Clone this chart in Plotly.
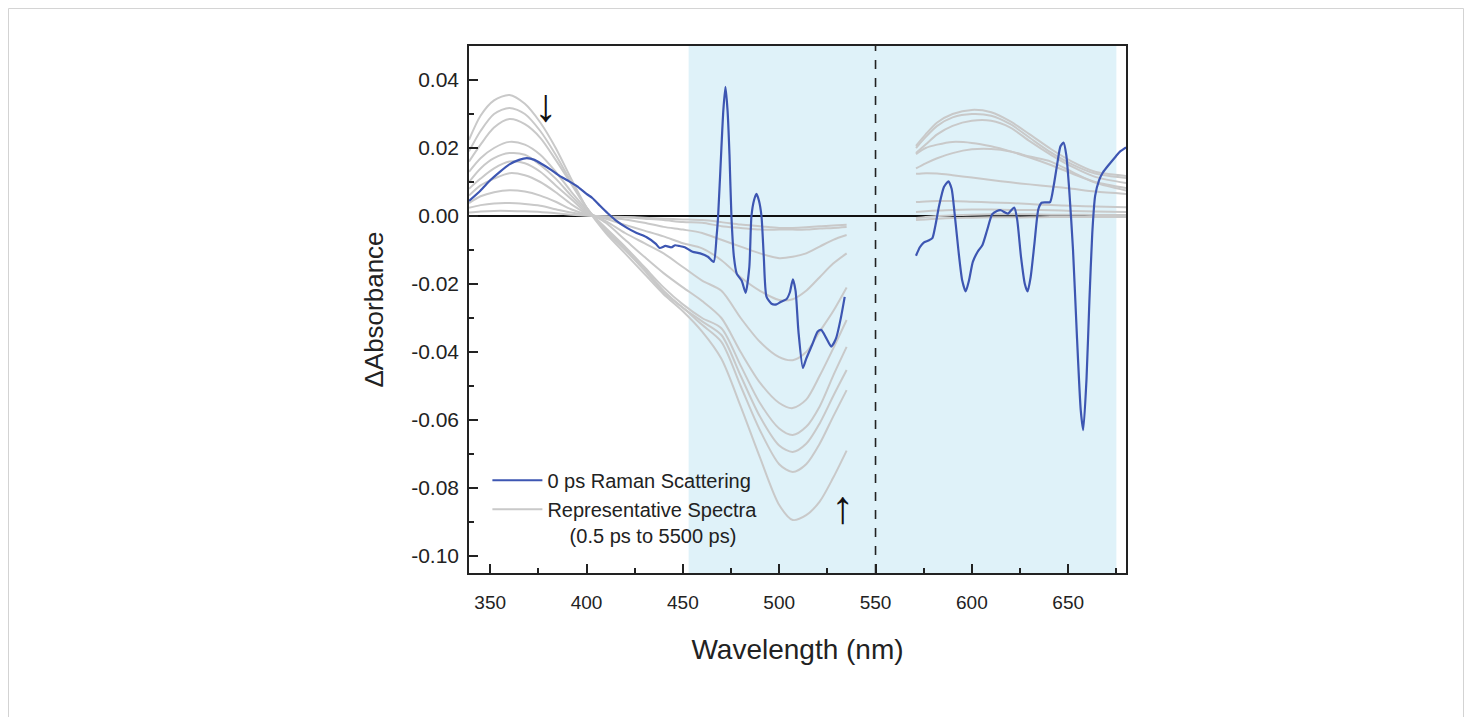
import plotly.graph_objects as go

# ---------------- data ----------------
wl_uv = [339, 345, 352, 360, 368, 376, 384, 392, 400, 410, 420, 430, 440, 450,
         460, 470, 480, 490, 500, 507, 514, 521, 528, 535]
wl_vis = [571, 576, 582, 590, 600, 610, 620, 630, 641, 652, 664, 680]

spec1_uv = [0.0224, 0.0295, 0.034, 0.0356, 0.033, 0.0275, 0.020, 0.011, 0.0025, -0.005, -0.011, -0.017,
            -0.023, -0.028, -0.034, -0.042, -0.056, -0.071, -0.085, -0.0894, -0.088, -0.084, -0.077, -0.069]
spec2_uv = [0.019, 0.025, 0.030, 0.0318, 0.030, 0.025, 0.018, 0.010, 0.0025, -0.0045, -0.010, -0.016,
            -0.0225, -0.027, -0.032, -0.037, -0.050, -0.063, -0.073, -0.0753, -0.073, -0.067, -0.059, -0.0512]
spec3_uv = [0.016, 0.021, 0.026, 0.0285, 0.027, 0.023, 0.0165, 0.0095, 0.0025, -0.004, -0.0095, -0.0155,
            -0.022, -0.027, -0.031, -0.035, -0.047, -0.059, -0.0675, -0.0694, -0.067, -0.061, -0.053, -0.0453]
spec4_uv = [0.013, 0.017, 0.020, 0.0218, 0.021, 0.018, 0.013, 0.0072, 0.002, -0.0035, -0.009, -0.015,
            -0.021, -0.026, -0.030, -0.033, -0.044, -0.055, -0.0625, -0.0644, -0.062, -0.056, -0.047, -0.0385]
spec5_uv = [0.010, 0.014, 0.017, 0.0185, 0.018, 0.015, 0.011, 0.006, 0.0015, -0.002, -0.007, -0.012,
            -0.0168, -0.021, -0.025, -0.030, -0.040, -0.049, -0.055, -0.0565, -0.054, -0.047, -0.039, -0.0306]
spec6_uv = [0.008, 0.011, 0.014, 0.016, 0.0155, 0.013, 0.009, 0.005, 0.001, -0.0015, -0.005, -0.008,
            -0.011, -0.015, -0.019, -0.022, -0.030, -0.037, -0.0415, -0.0424, -0.040, -0.034, -0.028, -0.021]
spec7_uv = [0.006, 0.009, 0.011, 0.0126, 0.012, 0.010, 0.007, 0.0035, 0.0008, -0.0008, -0.0026, -0.0043,
            -0.006, -0.008, -0.0095, -0.013, -0.018, -0.022, -0.0247, -0.0245, -0.022, -0.018, -0.014, -0.011]
spec8_uv = [0.0038, 0.0058, 0.0070, 0.0076, 0.0072, 0.006, 0.0042, 0.002, 0.0005, -0.0005, -0.001, -0.002,
            -0.0032, -0.004, -0.005, -0.007, -0.009, -0.011, -0.0124, -0.012, -0.011, -0.009, -0.007, -0.0056]
spec9_uv = [0.0024, 0.0032, 0.0037, 0.0038, 0.0035, 0.003, 0.002, 0.001, 0.0003, -0.0002, -0.0004, -0.0008,
            -0.0012, -0.0018, -0.002, -0.003, -0.0035, -0.004, -0.004, -0.004, -0.004, -0.0037, -0.0035, -0.0032]
spec10_uv = [0.001, 0.0013, 0.0015, 0.0015, 0.0014, 0.0012, 0.0008, 0.0004, 0.0001, -0.0001, -0.0003, -0.0005,
             -0.0008, -0.001, -0.0012, -0.0018, -0.0025, -0.003, -0.0035, -0.0035, -0.0033, -0.003, -0.0028, -0.0026]

spec1_vis = [0.0206, 0.024, 0.0275, 0.030, 0.0312, 0.0305, 0.0278, 0.024, 0.0197, 0.016, 0.013, 0.0118]
spec2_vis = [0.0200, 0.0232, 0.0265, 0.029, 0.0300, 0.0295, 0.027, 0.023, 0.0187, 0.0152, 0.0125, 0.0112]
spec3_vis = [0.0185, 0.021, 0.024, 0.0265, 0.0280, 0.0280, 0.026, 0.022, 0.0180, 0.0145, 0.0115, 0.0097]
spec4_vis = [0.0182, 0.0200, 0.021, 0.0218, 0.0215, 0.0205, 0.019, 0.0172, 0.0150, 0.0125, 0.010, 0.0082]
spec5_vis = [0.0140, 0.0155, 0.0170, 0.0185, 0.0196, 0.0197, 0.0190, 0.0175, 0.0160, 0.013, 0.0098, 0.0075]
spec6_vis = [0.0124, 0.0126, 0.0125, 0.012, 0.0113, 0.0106, 0.0099, 0.0093, 0.0087, 0.0080, 0.0072, 0.0065]
spec7_vis = [0.0041, 0.0043, 0.0044, 0.0044, 0.0042, 0.0040, 0.0038, 0.0035, 0.0032, 0.0030, 0.0028, 0.0026]
spec8_vis = [0.0012, 0.0014, 0.0016, 0.0018, 0.0019, 0.0019, 0.0018, 0.0018, 0.0017, 0.0015, 0.0013, 0.0012]
spec9_vis = [-0.0006, -0.0003, 0.0, 0.0002, 0.0004, 0.0005, 0.0005, 0.0005, 0.0004, 0.0004, 0.0003, 0.0003]
spec10_vis = [-0.0012, -0.0010, -0.0008, -0.0006, -0.0005, -0.0004, -0.0004, -0.0004, -0.0003, -0.0003, -0.0003, -0.0003]

raman_wl_uv = [339, 345, 350, 355, 360, 365, 369, 373, 377, 381, 386, 390, 395, 400, 403, 407, 411, 415,
               421, 426, 431, 436, 438, 441, 444, 446, 448, 451, 455, 459, 463, 466,
               467.5, 468.3, 470, 471, 472.1, 473.2, 474.2, 475.2, 476.5, 478, 480.5, 482.6, 484.5,
               485.6, 487, 488.2, 489.5, 490.8, 492, 493.4, 496, 498.6, 501, 503.7, 505.5, 507.1,
               508.5, 510, 512.3, 514, 517, 520, 521.8, 524.5, 527, 529.5, 532, 534]
raman_val_uv = [0.0044, 0.0075, 0.0105, 0.013, 0.0152, 0.0165, 0.017, 0.0165, 0.0152, 0.0138, 0.0118,
                0.0105, 0.0088, 0.0065, 0.0053, 0.003, 0.0008, -0.0012, -0.0035, -0.005, -0.0062,
                -0.0082, -0.0094, -0.0088, -0.0092, -0.0086, -0.0088, -0.0092, -0.0105, -0.011, -0.012,
                -0.0135, -0.006, 0.0, 0.020, 0.031, 0.038, 0.031, 0.018, 0.0, -0.012, -0.017, -0.019,
                -0.0226, -0.015, 0.0, 0.0048, 0.0065, 0.0045, 0.0, -0.012, -0.0237, -0.0258, -0.026,
                -0.0252, -0.0245, -0.0225, -0.0186, -0.022, -0.034, -0.0447, -0.042, -0.038, -0.034,
                -0.0335, -0.036, -0.0384, -0.036, -0.030, -0.0238]

raman_wl_vis = [571, 573, 575, 577.5, 579.5, 581, 583, 585.5, 587.8, 589.5, 591, 593, 595, 596.8, 598.5,
                600.5, 603, 605.5, 608, 610.5, 613, 615, 618.7, 622, 623.5, 625.5, 627.5, 628.9, 630.5,
                632.5, 634.5, 636.2, 638.5, 640.6, 642.5, 644.5, 646, 647.6, 649, 650.5, 652.5, 654.5,
                656.5, 657.8, 659.5, 661, 662.5, 664, 666, 668, 671, 674.8, 677, 680]
raman_val_vis = [-0.0117, -0.0092, -0.0078, -0.0072, -0.0065, -0.003, 0.003, 0.0085, 0.0102, 0.008, 0.001,
                 -0.010, -0.019, -0.0222, -0.019, -0.0135, -0.0105, -0.0085, -0.004, 0.0005, 0.0015,
                 0.0017, 0.0007, 0.0025, -0.001, -0.012, -0.020, -0.0222, -0.018, -0.008, 0.002, 0.0039,
                 0.0040, 0.0041, 0.009, 0.016, 0.0205, 0.0216, 0.018, 0.008, -0.010, -0.035, -0.057,
                 -0.063, -0.048, -0.025, -0.005, 0.006, 0.0105, 0.0128, 0.015, 0.0176, 0.019, 0.0202]

x_ticks = [350, 400, 450, 500, 550, 600, 650]
y_ticks = [0.04, 0.02, 0.00, -0.02, -0.04, -0.06, -0.08, -0.10]
y_tick_text = ["0.04", "0.02", "0.00", "-0.02", "-0.04", "-0.06", "-0.08", "-0.10"]

shade_range = [453, 675]
divider_wl = 550

spectra_uv = [spec1_uv, spec2_uv, spec3_uv, spec4_uv, spec5_uv, spec6_uv, spec7_uv, spec8_uv, spec9_uv, spec10_uv]
spectra_vis = [spec1_vis, spec2_vis, spec3_vis, spec4_vis, spec5_vis, spec6_vis, spec7_vis, spec8_vis, spec9_vis, spec10_vis]

# ---------------- figure ----------------
FONT = "Liberation Sans, Arial, sans-serif"
GRAY = "#c9c9c9"
BLUE = "#3d56b2"

fig = go.Figure()

for i, (su, sv) in enumerate(zip(spectra_uv, spectra_vis)):
    fig.add_trace(go.Scatter(
        x=wl_uv + [None] + wl_vis, y=su + [None] + sv,
        mode="lines", line=dict(color=GRAY, width=2, shape="spline", smoothing=0.8),
        connectgaps=False, legendgroup="gray", showlegend=(i == 0), legendrank=2,
        name="Representative Spectra<br>\u00a0\u00a0\u00a0\u00a0(0.5 ps to 5500 ps)",
        hoverinfo="skip"))

fig.add_trace(go.Scatter(
    x=raman_wl_uv + [None] + raman_wl_vis, y=raman_val_uv + [None] + raman_val_vis,
    mode="lines", line=dict(color=BLUE, width=2.2, shape="spline", smoothing=0.6),
    connectgaps=False, name="0 ps Raman Scattering", legendrank=1))

fig.add_shape(type="rect", xref="x", yref="paper", x0=shade_range[0], x1=shade_range[1],
              y0=0, y1=1, fillcolor="#dff2f9", line=dict(width=0), layer="below")
fig.add_shape(type="line", xref="x", yref="paper", x0=divider_wl, x1=divider_wl, y0=0, y1=1,
              line=dict(color="#222", width=1.6, dash="dash"))

# outer card frame (figure border)
fig.add_shape(type="path", xref="paper", yref="paper",
              path="M -0.7009,-0.3 L -0.7009,1.0712 L 1.5137,1.0712 L 1.5137,-0.3",
              line=dict(color="#d3d3d3", width=1))

fig.add_annotation(x=378.5, y=0.0326, text="↓", showarrow=False,
                   font=dict(family=FONT, size=46, color="#111"))
fig.add_annotation(x=533, y=-0.0855, text="↑", showarrow=False,
                   font=dict(family=FONT, size=46, color="#111"))

axis_common = dict(showline=True, linecolor="#222", linewidth=1.5, mirror=True, showgrid=False,
                   ticks="inside", ticklen=9, tickwidth=1.5, tickcolor="#222")

fig.update_xaxes(range=[339, 680], tickvals=x_ticks, zeroline=False,
                 tickfont=dict(family=FONT, size=19, color="#222"), ticklabelstandoff=11,
                 minor=dict(ticks="inside", ticklen=5, tickwidth=1.5, tickcolor="#222",
                            dtick=25, tick0=325, showgrid=False),
                 title=dict(text="Wavelength (nm)", font=dict(family=FONT, size=28, color="#222"),
                            standoff=28),
                 **axis_common)
fig.update_yaxes(range=[-0.105, 0.05], tickvals=y_ticks, ticktext=y_tick_text,
                 tickfont=dict(family=FONT, size=21, color="#222"), ticklabelstandoff=4,
                 zeroline=True, zerolinecolor="#111", zerolinewidth=1.6,
                 minor=dict(ticks="inside", ticklen=5, tickwidth=1.5, tickcolor="#222",
                            dtick=0.01, tick0=0, showgrid=False),
                 title=dict(text="ΔAbsorbance", font=dict(family=FONT, size=26, color="#222"),
                            standoff=20),
                 **axis_common)

fig.update_layout(
    width=1456, height=709,
    margin=dict(l=461, r=338, t=38, b=144, autoexpand=False),
    paper_bgcolor="white", plot_bgcolor="white",
    showlegend=True,
    legend=dict(x=0.028, y=0.213, xanchor="left", yanchor="top", bgcolor="rgba(0,0,0,0)",
                font=dict(family=FONT, size=20, color="#222"), itemwidth=50,
                tracegroupgap=0, valign="top", traceorder="normal"),
)

fig.write_html("out.html")
